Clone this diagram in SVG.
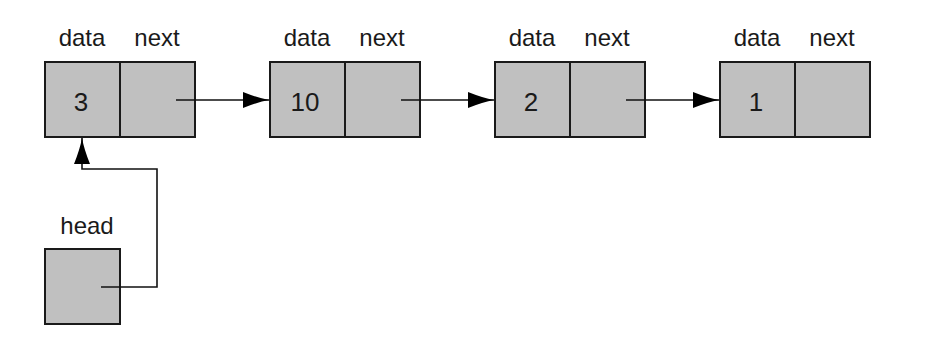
<svg xmlns="http://www.w3.org/2000/svg" width="942" height="342" viewBox="0 0 942 342">
<style>
.cell{fill:#c0c0c0;stroke:#1a1a1a;stroke-width:2}
.lbl{font-family:"Liberation Sans",Arial,sans-serif;font-size:24px;fill:#1a1a1a;text-anchor:middle}
.num{font-size:26px}
.conn{fill:none;stroke:#111;stroke-width:1.6}
</style>
<defs>
<marker id="ah" markerUnits="userSpaceOnUse" markerWidth="28" markerHeight="18" viewBox="0 0 28 18" refX="26" refY="9" orient="auto">
<path d="M26,9 Q15,7 0,1 L0,17 Q15,11 26,9Z" fill="#000"/>
</marker>
</defs>
<rect width="942" height="342" fill="#fff"/>
<g id="node1">
<rect class="cell" x="45" y="62" width="75" height="75"/>
<rect class="cell" x="120" y="62" width="75" height="75"/>
<text class="lbl" x="82" y="46">data</text>
<text class="lbl" x="157" y="46">next</text>
<text class="lbl num" x="81" y="111">3</text>
</g>
<g id="node2">
<rect class="cell" x="270" y="62" width="75" height="75"/>
<rect class="cell" x="345" y="62" width="75" height="75"/>
<text class="lbl" x="307" y="46">data</text>
<text class="lbl" x="382" y="46">next</text>
<text class="lbl num" x="305" y="111">10</text>
</g>
<g id="node3">
<rect class="cell" x="495" y="62" width="75" height="75"/>
<rect class="cell" x="570" y="62" width="75" height="75"/>
<text class="lbl" x="532" y="46">data</text>
<text class="lbl" x="607" y="46">next</text>
<text class="lbl num" x="531" y="111">2</text>
</g>
<g id="node4">
<rect class="cell" x="720" y="62" width="75" height="75"/>
<rect class="cell" x="795" y="62" width="75" height="75"/>
<text class="lbl" x="757" y="46">data</text>
<text class="lbl" x="832" y="46">next</text>
<text class="lbl num" x="756" y="111">1</text>
</g>
<g id="head">
<rect class="cell" x="45" y="249" width="75" height="75"/>
<text class="lbl" x="87" y="234">head</text>
</g>
<g id="connectors">
<line class="conn" x1="176" y1="100" x2="269" y2="100" marker-end="url(#ah)"/>
<line class="conn" x1="401" y1="100" x2="494" y2="100" marker-end="url(#ah)"/>
<line class="conn" x1="626" y1="100" x2="719" y2="100" marker-end="url(#ah)"/>
<polyline class="conn" points="101,287 157,287 157,169 82,169 82,138" marker-end="url(#ah)"/>
</g>
</svg>
